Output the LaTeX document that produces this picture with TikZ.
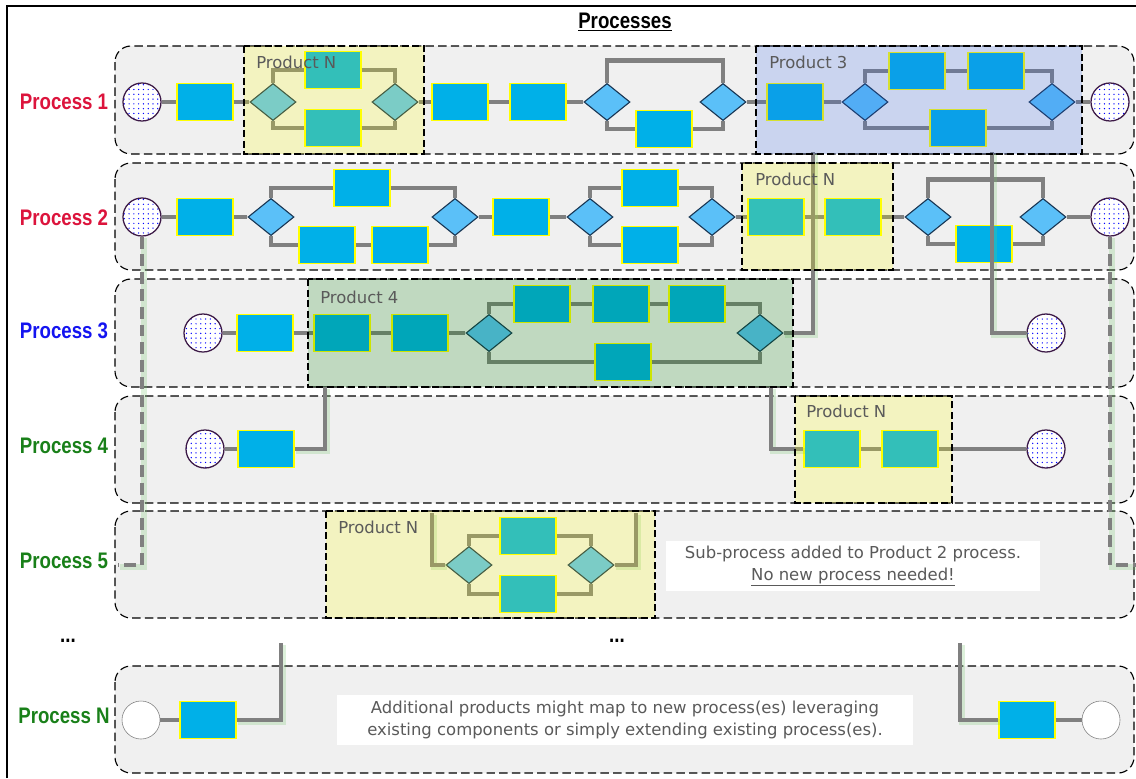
\documentclass[tikz,border=0pt]{standalone}
\usepackage{fontspec}
\setmainfont{DejaVu Sans}
\newfontfamily\procfont[FakeStretch=0.83]{Liberation Sans}
\usepackage{tikz}
\usetikzlibrary{shapes.geometric, patterns.meta}
\definecolor{rojo}{RGB}{220, 20, 60}
\definecolor{azul}{RGB}{20, 20, 240}
\definecolor{verde}{RGB}{25, 128, 25}
\definecolor{carril}{RGB}{240, 240, 240}
\definecolor{tarea}{RGB}{0, 176, 232}
\definecolor{puerta}{RGB}{91, 192, 248}
\definecolor{borde}{RGB}{25, 55, 85}
\definecolor{morado}{RGB}{60, 25, 70}
\definecolor{linea}{RGB}{128, 128, 128}
\definecolor{amarillo}{RGB}{255, 255, 0}
\definecolor{azulp}{RGB}{50, 100, 235}
\definecolor{verdep}{RGB}{0, 128, 0}
\definecolor{texto}{RGB}{90, 90, 90}
\definecolor{brillo}{RGB}{120, 200, 110}
\tikzset{
    task/.style={draw=amarillo, fill=tarea, line width=0.9pt, minimum width=1.4cm, minimum height=0.93cm, inner sep=0pt},
    gate/.style={diamond, fill=puerta, draw=borde, line width=0.8pt, minimum width=1.15cm, minimum height=0.93cm, inner sep=0pt},
    inic/.style={circle, draw=morado, line width=0.9pt, minimum size=0.95cm, inner sep=0pt, preaction={fill=white}, pattern={Dots[distance=3.4pt, radius=0.5pt]}, pattern color=blue},
    vacio/.style={circle, draw=gray, line width=0.4pt, minimum size=0.95cm, inner sep=0pt, fill=white},
    conn/.style={-, linea, line width=3.5pt},
    glow/.style={preaction={draw=brillo, line width=4pt, draw opacity=0.25, transform canvas={shift={(1.3pt,-1.3pt)}}}},
    enlace/.style={conn, dash pattern=on 8.5pt off 4pt},
    lane/.style={draw, dash pattern=on 6pt off 3pt, fill=carril, rounded corners=0.4cm, line width=0.8pt},
    prod/.style={draw, dash pattern=on 5pt off 2.5pt, line width=0.8pt, fill opacity=0.2},
    plab/.style={anchor=base west, inner sep=0pt, text=texto, font=\fontsize{11.7}{14}\selectfont},
    proc/.style={font=\procfont\bfseries\fontsize{16}{18}\selectfont},
    nota/.style={fill=white, align=center, text=texto, font=\fontsize{11.7}{15.5}\selectfont, minimum height=1.25cm, inner sep=0pt},
}
\begin{document}
\begin{tikzpicture}[x=0.025cm, y=-0.025cm]
        \useasboundingbox (0,0) rectangle (1136,778);
        \draw[line width=1pt] (7,778) -- (7,6) -- (1136,6);

        \node[proc, text=black] (ttl) at (625,22) {\underline{Processes}};

        \draw[lane] (115,46) rectangle (1134,154);
        \draw[lane] (115,163) rectangle (1134,270);
        \draw[lane] (115,279) rectangle (1134,387);
        \draw[lane] (115,396) rectangle (1134,503);
        \draw[lane] (115,511) rectangle (1134,618);
        \draw[lane] (115,666) rectangle (1134,773);

        \node[proc, text=rojo] (l1) at (64,102) {Process 1};
        \node[proc, text=rojo] (l2) at (64,218) {Process 2};
        \node[proc, text=azul] (l3) at (64,331) {Process 3};
        \node[proc, text=verde] (l4) at (64,446) {Process 4};
        \node[proc, text=verde] (l5) at (64,561) {Process 5};
        \node[proc, text=verde] (lN) at (64,716) {Process N};
        \node[proc, text=black] (dt1) at (68,641) {...};
        \node[proc, text=black] (dt2) at (617,641) {...};

        % process 1
        \node[inic] (c1s) at (142,102) {};
        \node[task] (t1a) at (205,102) {};
        \node[gate] (g1a) at (273,102) {};
        \node[task] (t1b) at (333,70) {};
        \node[task] (t1c) at (333,128) {};
        \node[gate] (g1b) at (395,102) {};
        \node[task] (t1d) at (460,102) {};
        \node[task] (t1e) at (538,102) {};
        \node[gate] (g1c) at (607,102) {};
        \node[task] (t1f) at (664,129) {};
        \node[gate] (g1d) at (723,102) {};
        \node[task] (t1g) at (795,102) {};
        \node[gate] (g1e) at (865,102) {};
        \node[task] (t1h) at (917,71) {};
        \node[task] (t1i) at (996,71) {};
        \node[task] (t1j) at (958,128) {};
        \node[gate] (g1f) at (1052,102) {};
        \node[inic] (c1e) at (1110,102) {};

        % process 2
        \node[inic] (c2s) at (142,217) {};
        \node[task] (t2a) at (205,217) {};
        \node[gate] (g2a) at (271,217) {};
        \node[task] (t2b) at (362,188) {};
        \node[task] (t2c) at (327,245) {};
        \node[task] (t2d) at (400,245) {};
        \node[gate] (g2b) at (455,217) {};
        \node[task] (t2e) at (521,217) {};
        \node[gate] (g2c) at (590,217) {};
        \node[task] (t2f) at (650,188) {};
        \node[task] (t2g) at (650,245) {};
        \node[gate] (g2d) at (712,217) {};
        \node[task] (t2h) at (776,217) {};
        \node[task] (t2i) at (853,217) {};
        \node[gate] (g2e) at (928,217) {};
        \node[task] (t2j) at (984,244) {};
        \node[gate] (g2f) at (1043,217) {};
        \node[inic] (c2e) at (1110,217) {};

        % process 3
        \node[inic] (c3s) at (203,333) {};
        \node[task] (t3a) at (265,333) {};
        \node[task] (t3b) at (342,333) {};
        \node[task] (t3c) at (420,333) {};
        \node[gate] (g3a) at (489,333) {};
        \node[task] (t3d) at (542,304) {};
        \node[task] (t3e) at (621,304) {};
        \node[task] (t3f) at (697,304) {};
        \node[task] (t3g) at (623,362) {};
        \node[gate] (g3b) at (760,333) {};
        \node[inic] (c3e) at (1046,333) {};

        % process 4
        \node[inic] (c4s) at (205,449) {};
        \node[task] (t4a) at (266,449) {};
        \node[task] (t4b) at (832,449) {};
        \node[task] (t4c) at (910,449) {};
        \node[inic] (c4e) at (1046,449) {};

        % process 5
        \node[gate] (g5a) at (469,565) {};
        \node[task] (t5a) at (528,536) {};
        \node[task] (t5b) at (528,594) {};
        \node[gate] (g5b) at (591,565) {};

        % process N
        \node[vacio] (cNs) at (141,720) {};
        \node[task] (tNa) at (208,720) {};
        \node[task] (tNb) at (1027,720) {};
        \node[vacio] (cNe) at (1101,720) {};

        \coordinate (p3a) at (813,152);
        \coordinate (p3b) at (992,152);
        \coordinate (p4a) at (325,387);
        \coordinate (p4b) at (771,387);
        \coordinate (q5a) at (432,513);
        \coordinate (q5b) at (636,513);
        \coordinate (e5a) at (118,565);
        \coordinate (e5b) at (1136,565);
        \coordinate (uNa) at (281,643);
        \coordinate (uNb) at (960,643);

        \draw[conn] (c1s) -- (t1a) -- (g1a);
        \draw[conn] (g1a.north) |- (t1b.west);
        \draw[conn] (t1b.east) -| (g1b.north);
        \draw[conn] (g1a.south) |- (t1c.west);
        \draw[conn] (t1c.east) -| (g1b.south);
        \draw[conn] (g1b) -- (t1d) -- (t1e) -- (g1c);
        \draw[conn] (g1c.north) -- ++(0,-22) -| (g1d.north);
        \draw[conn] (g1c.south) |- (t1f.west);
        \draw[conn] (t1f.east) -| (g1d.south);
        \draw[conn] (g1d) -- (t1g) -- (g1e);
        \draw[conn] (g1e.north) |- (t1h.west);
        \draw[conn] (t1h) -- (t1i);
        \draw[conn] (t1i.east) -| (g1f.north);
        \draw[conn] (g1e.south) |- (t1j.west);
        \draw[conn] (t1j.east) -| (g1f.south);
        \draw[conn] (g1f) -- (c1e);

        \draw[conn] (c2s) -- (t2a) -- (g2a);
        \draw[conn] (g2a.north) |- (t2b.west);
        \draw[conn] (t2b.east) -| (g2b.north);
        \draw[conn] (g2a.south) |- (t2c.west);
        \draw[conn] (t2c) -- (t2d);
        \draw[conn] (t2d.east) -| (g2b.south);
        \draw[conn] (g2b) -- (t2e) -- (g2c);
        \draw[conn] (g2c.north) |- (t2f.west);
        \draw[conn] (t2f.east) -| (g2d.north);
        \draw[conn] (g2c.south) |- (t2g.west);
        \draw[conn] (t2g.east) -| (g2d.south);
        \draw[conn] (g2d) -- (t2h) -- (t2i) -- (g2e);
        \draw[conn] (g2e.north) -- ++(0,-18) -| (g2f.north);
        \draw[conn] (g2e.south) |- (t2j.west);
        \draw[conn] (t2j.east) -| (g2f.south);
        \draw[conn] (g2f) -- (c2e);

        \draw[conn] (c3s) -- (t3a) -- (t3b) -- (t3c) -- (g3a);
        \draw[conn] (g3a.north) |- (t3d.west);
        \draw[conn] (t3d) -- (t3e) -- (t3f);
        \draw[conn] (t3f.east) -| (g3b.north);
        \draw[conn] (g3a.south) |- (t3g.west);
        \draw[conn] (t3g.east) -| (g3b.south);

        \draw[conn] (c4s) -- (t4a);
        \draw[conn] (t4b) -- (t4c) -- (c4e);

        \draw[conn] (g5a.north) |- (t5a.west);
        \draw[conn] (t5a.east) -| (g5b.north);
        \draw[conn] (g5a.south) |- (t5b.west);
        \draw[conn] (t5b.east) -| (g5b.south);

        \draw[conn] (cNs) -- (tNa);
        \draw[conn] (tNb) -- (cNe);

        % links between processes
        \draw[conn, glow] (g3b.east) -| (p3a);
        \draw[conn, glow] (p3b) |- (c3e.west);
        \draw[conn, glow] (t4a.east) -| (p4a);
        \draw[conn, glow] (p4b) |- (t4b.west);
        \draw[conn, glow] (q5a) |- (g5a.west);
        \draw[conn, glow] (g5b.east) -| (q5b);
        \draw[enlace, glow] (c2s.south) |- (e5a);
        \draw[enlace, glow] (c2e.south) |- (e5b);
        \draw[conn, glow] (uNa) |- (tNa.east);
        \draw[conn, glow] (uNb) |- (tNb.west);

        % products
        \draw[prod, fill=amarillo] (244,46) rectangle (424,154);
        \draw[prod, fill=azulp] (756,46) rectangle (1082,154);
        \draw[prod, fill=amarillo] (742,163) rectangle (893,270);
        \draw[prod, fill=verdep] (308,279) rectangle (793,387);
        \draw[prod, fill=amarillo] (795,396) rectangle (952,503);
        \draw[prod, fill=amarillo] (326,511) rectangle (655,618);

        \node[plab] (b1) at (256,68) {Product N};
        \node[plab] (b3) at (769,68) {Product 3};
        \node[plab] (b2) at (755,185) {Product N};
        \node[plab] (b4) at (320,303) {Product 4};
        \node[plab] (b5) at (806,417) {Product N};
        \node[plab] (b6) at (338,533) {Product N};

        \node[nota, minimum width=9.33cm] (n5) at (853,566) {Sub-process added to Product 2 process.\\\underline{No new process needed!}};
        \node[nota, minimum width=14.4cm] (nN) at (625,720) {Additional products might map to new process(es) leveraging\\existing components or simply extending existing process(es).};
    \end{tikzpicture}
\end{document}
